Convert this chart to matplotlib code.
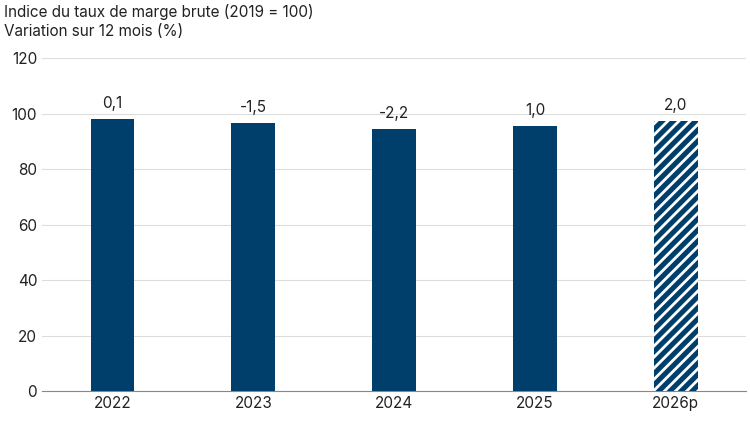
import matplotlib.pyplot as plt
import numpy as np

plt.rcParams['font.family'] = ['Inter', 'DejaVu Sans']
plt.rcParams['hatch.linewidth'] = 2.0

years = ['2022', '2023', '2024', '2025', '2026p']
index_vals = [98.0, 96.7, 94.5, 95.6, 97.4]
labels = ['0,1', '-1,5', '-2,2', '1,0', '2,0']

navy = '#003F6B'
fig, ax = plt.subplots(figsize=[7.5, 4.22], dpi=100)
plt.subplots_adjust(left=0.056, right=0.995, top=0.862, bottom=0.073)

x = np.arange(len(years))
ax.bar(x, index_vals, width=0.31, color=navy, zorder=3)
# forecast bar gets white diagonal hatching on top
ax.bar(x[-1:], index_vals[-1:], width=0.31, facecolor='none', edgecolor='white',
       hatch='///', linewidth=0, zorder=4)
for xi, v, lab in zip(x, index_vals, labels):
    ax.text(xi, v + 3, lab, ha='center', va='bottom', fontsize=11, color='#222222')

ax.set_ylim(0, 120)
ax.set_yticks(range(0, 121, 20))
ax.set_xticks(x)
ax.set_xticklabels(years)
ax.set_xlim(-0.5, 4.5)
ax.tick_params(axis='both', length=0, labelsize=11, colors='#222222')
ax.grid(axis='y', color='#dddddd', linewidth=0.8, zorder=0)
for s in ['top', 'right', 'left']:
    ax.spines[s].set_visible(False)
ax.spines['bottom'].set_color('#888888')

fig.text(0.005, 0.99, 'Indice du taux de marge brute (2019 = 100)\nVariation sur 12 mois (%)',
         ha='left', va='top', fontsize=11, color='#222222', linespacing=1.3)

plt.savefig('out.png')
